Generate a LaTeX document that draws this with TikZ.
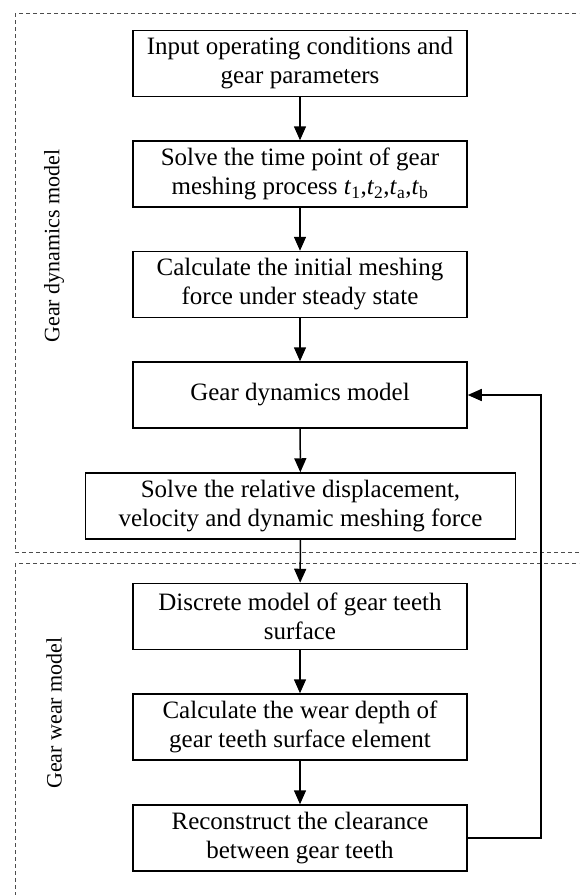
\documentclass[tikz,border=0pt]{standalone}
\usepackage{fontspec}
\setmainfont{Liberation Serif}
\usetikzlibrary{arrows.meta}
\tikzset{
  stepbox/.style={draw=black, line width=1.5pt, minimum width=334pt, minimum height=66pt,
    inner sep=0pt, align=center, font=\fontsize{25}{29}\selectfont},
  flow/.style={line width=1.5pt, -{Triangle[length=14pt,width=12pt]}},
  region/.style={draw=black!70, line width=0.8pt, dash pattern=on 4pt off 3pt},
  sidelabel/.style={rotate=90, font=\fontsize{22}{26}\selectfont, inner sep=0pt}
}
\begin{document}
\begin{tikzpicture}[x=1pt,y=-1pt]
\useasboundingbox (0,0) rectangle (579,895);
\begin{scope}
\clip (0,0) rectangle (579,895);
\draw[region] (15,13) rectangle (600,552);
\draw[region] (15,563) rectangle (600,920);
\end{scope}
\node[sidelabel] (l1) at (54,246) {Gear dynamics model};
\node[sidelabel] (l2) at (54,713) {Gear wear model};

\node[stepbox] (b1) at (300,63.5) {Input operating conditions and\\gear parameters};
\node[stepbox] (b2) at (300,174) {Solve the time point of gear\\meshing process \textit{t}\textsubscript{1},\textit{t}\textsubscript{2},\textit{t}\textsubscript{a},\textit{t}\textsubscript{b}};
\node[stepbox] (b3) at (300,284.5) {Calculate the initial meshing\\force under steady state};
\node[stepbox] (b4) at (300,395) {Gear dynamics model};
\node[stepbox, minimum width=430pt] (b5) at (300.5,506) {Solve the relative displacement,\\velocity and dynamic meshing force};
\node[stepbox] (b6) at (300,616.5) {Discrete model of gear teeth\\surface};
\node[stepbox] (b7) at (300,727) {Calculate the wear depth of\\gear teeth surface element};
\node[stepbox] (b8) at (300,838) {Reconstruct the clearance\\between gear teeth};

\draw[flow] (b1) -- (b2);
\draw[flow] (b2) -- (b3);
\draw[flow] (b3) -- (b4);
\draw[flow] (b4) -- (b5);
\draw[flow] (b5) -- (b6);
\draw[flow] (b6) -- (b7);
\draw[flow] (b7) -- (b8);
\coordinate (fb) at (541,0);
\draw[flow] (b8.east) -- (b8.east -| fb) -- (b4.east -| fb) -- (b4.east);
\end{tikzpicture}
\end{document}
